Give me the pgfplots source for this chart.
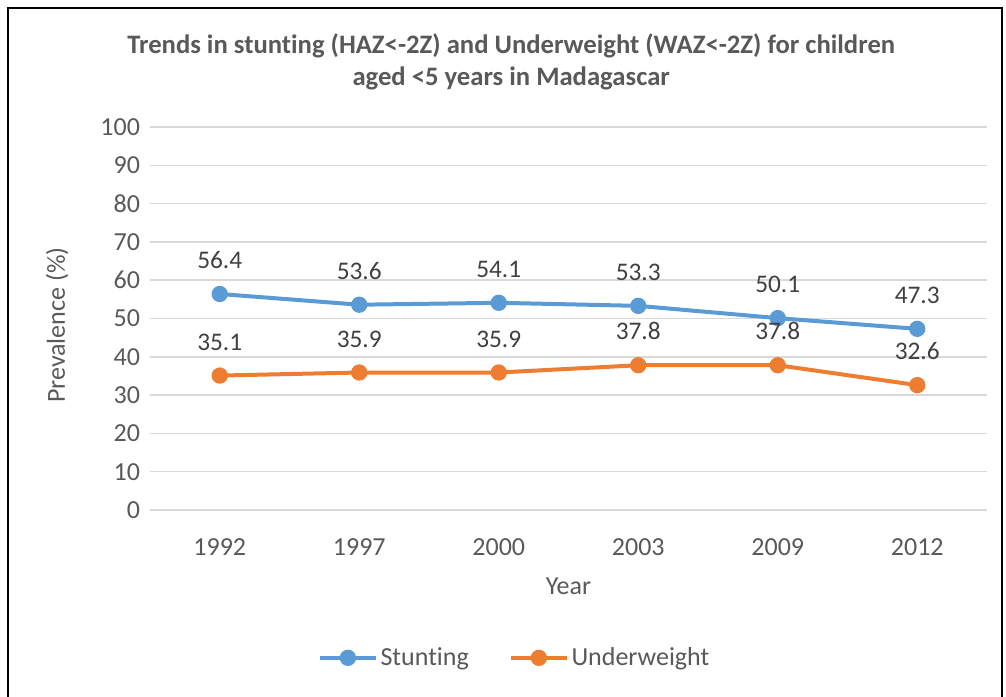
\documentclass[border=0pt]{standalone}
\usepackage{pgfplots}
\pgfplotsset{compat=1.18}
\usepackage{fontspec}
\setmainfont{Carlito}[Ligatures=NoCommon]
\definecolor{sblue}{HTML}{5B9BD5}
\definecolor{sorange}{HTML}{ED7D31}
\definecolor{txtgray}{HTML}{595959}
\definecolor{lblgray}{HTML}{404040}
\definecolor{gridgray}{HTML}{D9D9D9}
\begin{document}
\begin{tikzpicture}[x=1pt,y=1pt]
\useasboundingbox (-112.5,-139.5) rectangle (642,382.5);
\draw[black,line width=1.6pt] (-106.5,-145) -- (-106.5,376.5) -- (639,376.5) -- (639,-145);
\begin{axis}[
  at={(0,0)}, anchor=south west,
  scale only axis,
  width=627.75pt, height=287.25pt,
  xmin=-0.5, xmax=5.5,
  ymin=0, ymax=100,
  ytick={0,10,...,100},
  xtick={0,1,2,3,4,5},
  xticklabels={1992,1997,2000,2003,2009,2012},
  axis line style={draw=none},
  major tick length=0pt,
  ymajorgrids,
  grid style={gridgray,line width=1.1pt},
  tick label style={font=\fontsize{19.5}{22}\selectfont, text=txtgray},
  /pgf/number format/assume math mode=true,
  yticklabel style={xshift=-4pt},
  xticklabel style={yshift=-18pt},
  xlabel={Year},
  ylabel={Prevalence (\%)},
  label style={font=\fontsize{19.5}{22}\selectfont, text=txtgray},
  xlabel style={yshift=-10pt},
  ylabel style={yshift=17pt, xshift=-5pt},
  title={Trends in stunting (HAZ<-2Z) and Underweight (WAZ<-2Z) for children\\aged <5 years in Madagascar},
  title style={font=\fontsize{20}{24}\selectfont\bfseries, text=txtgray, align=center, yshift=18pt, xshift=-43pt},
  legend columns=2,
  legend style={draw=none, at={(0.436,-0.386)}, anchor=center,
    font=\fontsize{19.5}{22}\selectfont, text=txtgray,
    /tikz/every even column/.append style={column sep=28pt}},
  legend image code/.code={
    \draw[mark repeat=2,mark phase=2] plot coordinates {(0pt,0pt) (21pt,0pt) (42pt,0pt)};
  },
  nodes near coords,
  every node near coord/.append style={font=\fontsize{19}{22}\selectfont, text=lblgray, anchor=south, yshift=14pt,
    /pgf/number format/fixed, /pgf/number format/fixed zerofill, /pgf/number format/precision=1},
]
\addplot[sblue, line width=3pt, mark=*, mark size=4.6pt, mark options={solid}]
  coordinates {(0,56.4) (1,53.6) (2,54.1) (3,53.3) (4,50.1) (5,47.3)};
\addlegendentry{Stunting}
\addplot[sorange, line width=3pt, mark=*, mark size=4.6pt, mark options={solid}]
  coordinates {(0,35.1) (1,35.9) (2,35.9) (3,37.8) (4,37.8) (5,32.6)};
\addlegendentry{Underweight}
\end{axis}
\end{tikzpicture}
\end{document}
